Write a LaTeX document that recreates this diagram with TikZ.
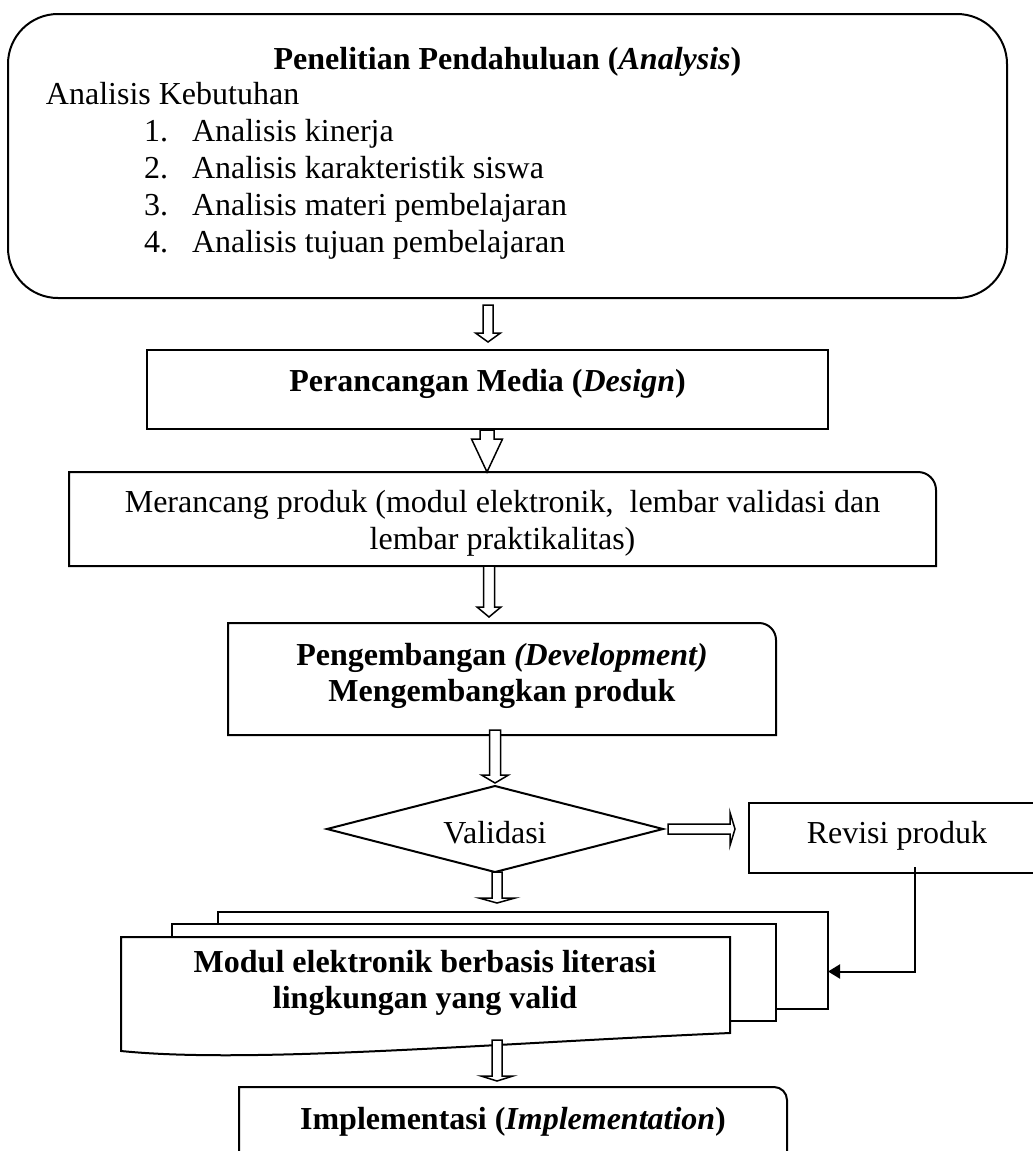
\documentclass[tikz,border=0pt]{standalone}
\usepackage{fontspec}
\setmainfont{Liberation Serif}
\usetikzlibrary{shapes.geometric,arrows.meta,calc}

\begin{document}
\begin{tikzpicture}[x=0.5pt,y=-0.5pt,line width=1pt]
\tikzstyle{box}=[draw,inner sep=0,outer sep=0]
\tikzstyle{area}=[inner sep=0,outer sep=0]
\tikzstyle{txt}=[inner sep=0,anchor=base,font=\fontsize{16pt}{18.5pt}\selectfont]
\tikzstyle{hollow}=[draw,fill=white,line width=0.75pt,line join=miter]
\useasboundingbox (0,0) rectangle (1033,1151);
\clip (0,0) rectangle (1033,1151);

\node[box,rounded corners=25pt,minimum width=499.5pt,minimum height=142pt] (ana) at (507.5,156) {};
\node[box,minimum width=340.5pt,minimum height=39.5pt] (des) at (487.5,389.5) {};
\node[area,minimum width=433.5pt,minimum height=47pt] (mer) at (502.5,519) {};
\node[area,minimum width=274pt,minimum height=56pt] (dev) at (502,679) {};
\node[box,diamond,minimum width=168pt,minimum height=43pt] (val) at (495,829) {};
\node[box,minimum width=148pt,minimum height=35pt] (rev) at (897,838) {};
\node[box,fill=white,minimum width=305pt,minimum height=48.5pt] (back) at (523,960.5) {};
\node[box,fill=white,minimum width=302pt,minimum height=48.5pt] (mid) at (474,972.5) {};
\node[area,minimum width=304.5pt,minimum height=57pt] (front) at (425.5,994) {};
\node[area,minimum width=274pt,minimum height=46.5pt] (imp) at (513,1133.5) {};

\foreach \n/\r in {mer/9pt,dev/8.5pt,imp/6.5pt}{
\draw (\n.south west) -- (\n.north west) [rounded corners=\r] -- (\n.north east) [sharp corners] -- (\n.south east) -- cycle;
}
\draw[fill=white] (front.north west) -- (front.north east) -- (730,1033) .. controls (480,1044) and (250,1064) .. (front.south west) -- cycle;

\node[txt] (anatitle) at (507.5,69) {\textbf{Penelitian Pendahuluan (\textit{Analysis})}};
\node[txt,anchor=base west] (anasub) at (45,104) {Analisis Kebutuhan};
\foreach \n/\yy/\what in {1/141/kinerja,2/178/karakteristik siswa,3/215/materi pembelajaran,4/252/tujuan pembelajaran}{
\node[txt,anchor=base west] (num\n) at (143,\yy) {\n.};
\node[txt,anchor=base west] (item\n) at (191,\yy) {Analisis \what};
}
\node[txt] (destext) at (487.5,391) {\textbf{Perancangan Media (\textit{Design})}};
\node[txt] (mertexta) at (502.5,512) {Merancang produk (modul elektronik,\ \ lembar validasi dan};
\node[txt] (mertextb) at (502.5,549) {lembar praktikalitas)};
\node[txt] (devtexta) at (502,665) {\textbf{Pengembangan \textit{(Development)}}};
\node[txt] (devtextb) at (502,701) {\textbf{Mengembangkan produk}};
\node[txt] (valtext) at (495,843) {Validasi};
\node[txt] (revtext) at (897,843) {Revisi produk};
\node[txt] (modtexta) at (425,972) {\textbf{Modul elektronik berbasis literasi}};
\node[txt] (modtextb) at (425,1008) {\textbf{lingkungan yang valid}};
\node[txt] (imptext) at (513,1129) {\textbf{Implementasi (\textit{Implementation})}};

\foreach \a/\b/\ax/\st/\gp/\sw/\hw/\hl in {ana/des/488/7/8/5/12.5/9,des/mer/487/1/0/7/15.5/33,mer/dev/489/0/6/5.5/12/10,dev/val/495/-5/3/5.5/13.5/8,val/back/497/0/9/5/18/5,front/imp/497/-11/6/5/16/5}{
\draw[hollow] let \p1=(\a.south), \p2=(\b.north), \p3=(\ax,0) in
({\x3-\sw/2},{\y1-(\st)/2}) -- ({\x3-\sw/2},{\y2+(\gp+\hl)/2}) -- ({\x3-\hw/2},{\y2+(\gp+\hl)/2}) -- ({\x3},{\y2+\gp/2}) -- ({\x3+\hw/2},{\y2+(\gp+\hl)/2}) -- ({\x3+\sw/2},{\y2+(\gp+\hl)/2}) -- ({\x3+\sw/2},{\y1-(\st)/2}) -- cycle;
}
\draw[hollow] let \p1=(val.east), \p2=(rev.west) in
({\x1+2.5},{\y1+2.5}) -- ({\x2-9.5},{\y1+2.5}) -- ({\x2-9.5},{\y1+8.25}) -- ({\x2-7},{\y1}) -- ({\x2-9.5},{\y1-8.25}) -- ({\x2-9.5},{\y1-2.5}) -- ({\x1+2.5},{\y1-2.5}) -- cycle;

\coordinate (rv) at (915,867);
\draw[-{Triangle[length=6pt,width=7pt]}] (rv) |- ([yshift=-5.5pt]back.east);
\end{tikzpicture}
\end{document}
